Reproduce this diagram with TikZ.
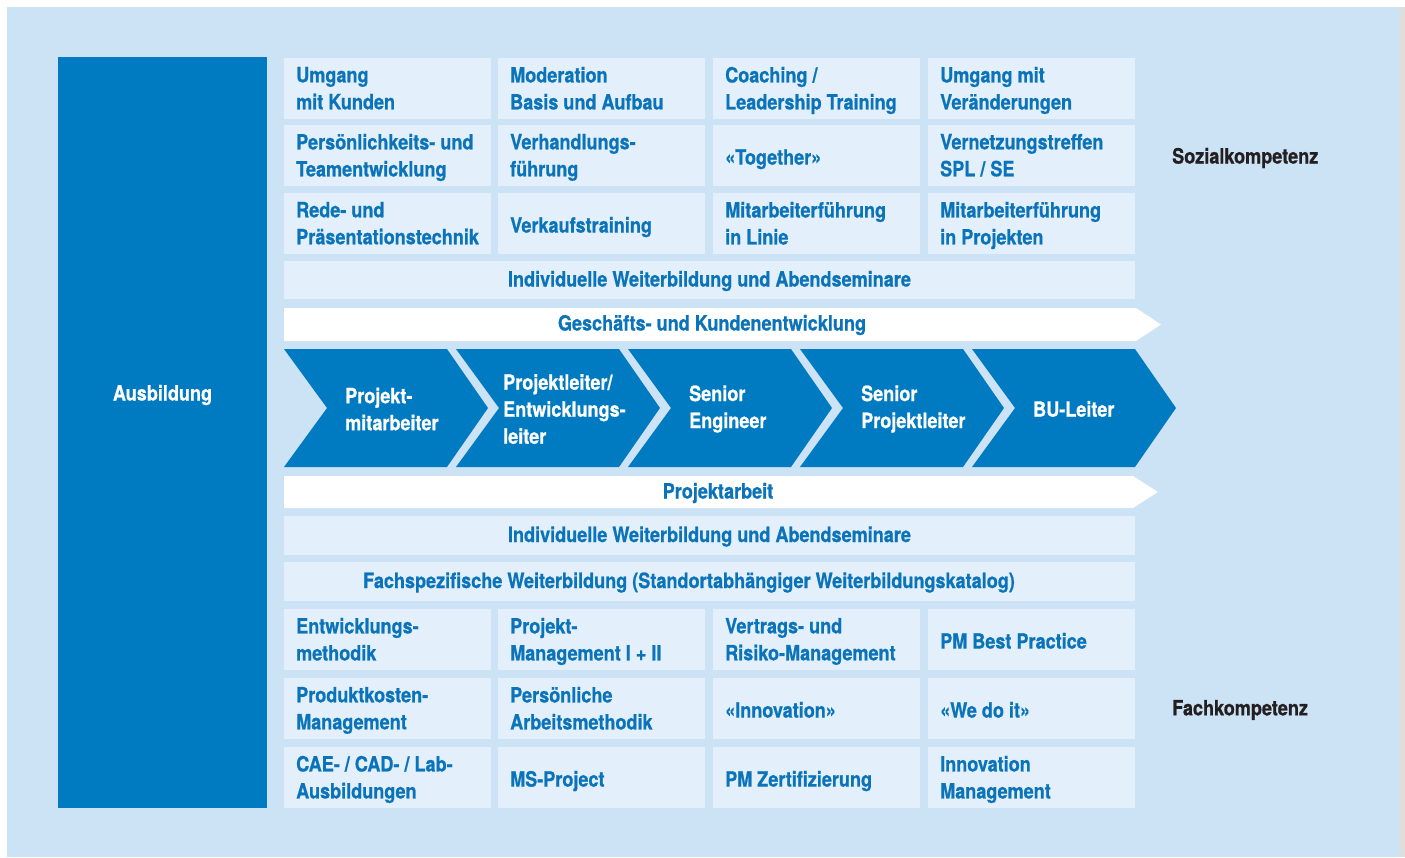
\documentclass[tikz,border=0pt]{standalone}
\usepackage{fontspec}
\setmainfont[FakeStretch=0.86,BoldFeatures={FakeBold=0.8}]{TeX Gyre Heros}
\definecolor{panel}{HTML}{CCE2F5}
\definecolor{cellbg}{HTML}{E3EFFA}
\definecolor{dblue}{HTML}{007BC2}
\definecolor{tblue}{HTML}{0A73BA}
\definecolor{lbl}{HTML}{231F20}
\definecolor{shadowgray}{HTML}{DEDEDE}
\newcommand{\dfont}{\fontsize{21}{27}\selectfont\bfseries}
\tikzset{
  cellbox/.style={fill=cellbg, anchor=north west, inner sep=0pt,
    minimum height=61pt, minimum width=207pt},
  celltext/.style={anchor=west, inner sep=0pt, align=left, text=tblue,
    font=\dfont, execute at begin node=\strut, execute at end node=\strut},
  band/.style={fill=cellbg, anchor=north west, inner sep=0pt, minimum width=851pt},
  atext/.style={text=tblue, font=\dfont},
  ctext/.style={text=white, anchor=west, align=left, inner sep=0pt,
    font=\dfont},
  sidelbl/.style={text=lbl, anchor=west, inner sep=0pt,
    font=\dfont},
  chev/.style={fill=dblue},
  arrowband/.style={fill=white}
}
\newcommand{\cellat}[4]{%
  \node[cellbox] (#1) at (#2,#3) {};
  \node[celltext] (#1t) at ([xshift=12pt,yshift=-3.5pt]#1.west) {#4};
}
\begin{document}
\begin{tikzpicture}[x=1pt,y=-1pt]
\useasboundingbox (0,0) rectangle (1405,857);
\fill[white] (0,0) rectangle (1405,857);
\fill[shadowgray] (1399,7) rectangle (1405,857);
\fill[panel] (7,7) rectangle (1399,857);
% Ausbildung
\node[fill=dblue, anchor=north west, minimum width=209pt, minimum height=751pt, inner sep=0pt] (ausb) at (58,57) {};
\node[text=white, font=\dfont] (ausbt) at (162.5,395) {Ausbildung};
% top grid
\cellat{a11}{284}{58}{Umgang\\mit Kunden}
\cellat{a12}{498}{58}{Moderation\\Basis und Aufbau}
\cellat{a13}{713}{58}{Coaching /\\Leadership Training}
\cellat{a14}{928}{58}{Umgang mit\\Veränderungen}
\cellat{a21}{284}{125}{Persönlichkeits- und\\Teamentwicklung}
\cellat{a22}{498}{125}{Verhandlungs-\\führung}
\cellat{a23}{713}{125}{«Together»}
\cellat{a24}{928}{125}{Vernetzungstreffen\\SPL / SE}
\cellat{a31}{284}{193}{Rede- und\\Präsentationstechnik}
\cellat{a32}{498}{193}{Verkaufstraining}
\cellat{a33}{713}{193}{Mitarbeiterführung\\in Linie}
\cellat{a34}{928}{193}{Mitarbeiterführung\\in Projekten}
\node[band, minimum height=38pt] (ind1) at (284,261) {};
\node[atext] (ind1t) at (709.5,281) {Individuelle Weiterbildung und Abendseminare};
% Geschaefts arrow
\coordinate (g1) at (284,308);
\coordinate (g2) at (1136,308);
\coordinate (g3) at (1161,324.5);
\coordinate (g4) at (1136,341);
\coordinate (g5) at (284,341);
\fill[arrowband] (g1) -- (g2) -- (g3) -- (g4) -- (g5) -- cycle;
\node[atext] (gt) at (712,325) {Geschäfts- und Kundenentwicklung};
% chevrons
\foreach \i/\s in {1/284,2/456,3/628,4/800,5/972}{
  \fill[chev] (\s,349) -- ({\s+163},349) -- ({\s+204},408) -- ({\s+163},467) -- (\s,467) -- ({\s+43},408) -- cycle;
}
\node[ctext] (c1) at (345,409) {Projekt-\\mitarbeiter};
\node[ctext] (c2) at (503,409) {Projektleiter/\\Entwicklungs-\\leiter};
\node[ctext] (c3) at (689,409) {Senior\\Engineer};
\node[ctext] (c4) at (861,409) {Senior\\Projektleiter};
\node[ctext] (c5) at (1033,409) {BU-Leiter};
% Projektarbeit arrow
\coordinate (p1) at (284,476);
\coordinate (p2) at (1133,476);
\coordinate (p3) at (1158,492);
\coordinate (p4) at (1133,508);
\coordinate (p5) at (284,508);
\fill[arrowband] (p1) -- (p2) -- (p3) -- (p4) -- (p5) -- cycle;
\node[atext] (pt) at (718,493) {Projektarbeit};
\node[band, minimum height=39pt] (ind2) at (284,516) {};
\node[atext] (ind2t) at (709.5,536.5) {Individuelle Weiterbildung und Abendseminare};
\node[band, minimum height=39pt] (fach) at (284,562) {};
\node[atext] (facht) at (689,582.5) {Fachspezifische Weiterbildung (Standortabhängiger Weiterbildungskatalog)};
% bottom grid
\cellat{b11}{284}{609}{Entwicklungs-\\methodik}
\cellat{b12}{498}{609}{Projekt-\\Management I + II}
\cellat{b13}{713}{609}{Vertrags- und\\Risiko-Management}
\cellat{b14}{928}{609}{PM Best Practice}
\cellat{b21}{284}{678}{Produktkosten-\\Management}
\cellat{b22}{498}{678}{Persönliche\\Arbeitsmethodik}
\cellat{b23}{713}{678}{«Innovation»}
\cellat{b24}{928}{678}{«We do it»}
\cellat{b31}{284}{747}{CAE- / CAD- / Lab-\\Ausbildungen}
\cellat{b32}{498}{747}{MS-Project}
\cellat{b33}{713}{747}{PM Zertifizierung}
\cellat{b34}{928}{747}{Innovation\\Management}
% side labels
\node[sidelbl] (soz) at (1172,158) {Sozialkompetenz};
\node[sidelbl] (fk) at (1172,710) {Fachkompetenz};
\end{tikzpicture}
\end{document}
